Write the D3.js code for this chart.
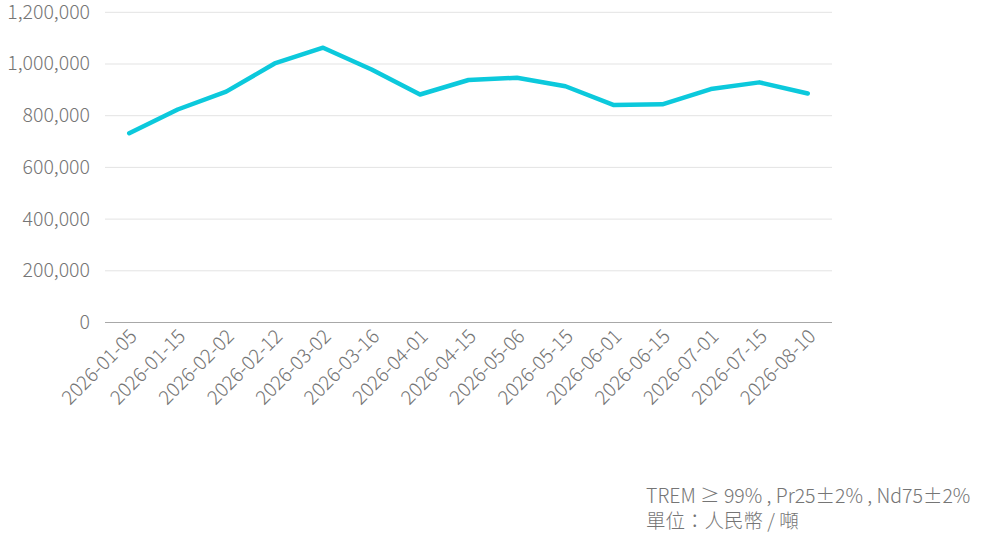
<!DOCTYPE html>
<html>
<head>
<meta charset="utf-8">
<script src="https://cdn.jsdelivr.net/npm/d3@7"></script>
<style>
  body { margin: 0; background: #fff; }
  svg text { font-family: "Noto Sans CJK TC", "Noto Sans", sans-serif; font-weight: 300; fill: #757575; }
</style>
</head>
<body>
<script>
var dates = ["2026-01-05", "2026-01-15", "2026-02-02", "2026-02-12", "2026-03-02",
  "2026-03-16", "2026-04-01", "2026-04-15", "2026-05-06", "2026-05-15",
  "2026-06-01", "2026-06-15", "2026-07-01", "2026-07-15", "2026-08-10"];
var prices = [732000, 824000, 893000, 1002000, 1063000,
  979000, 882000, 938000, 947000, 914000,
  841000, 844000, 903000, 929000, 886000];
var yTicks = [0, 200000, 400000, 600000, 800000, 1000000, 1200000];
var notes = ["TREM ≥ 99% , Pr25±2% , Nd75±2%", "單位：人民幣 / 噸"];

var width = 995,
  height = 553,
  plotLeft = 105,
  plotRight = 832,
  plotTop = 12.3,
  plotBottom = 322.5

var svg = d3.select("body").append("svg")
  .attr("width", width)
  .attr("height", height)

var x = d3.scalePoint()
  .domain(dates)
  .range([plotLeft, plotRight])
  .padding(0.5);

var y = d3.scaleLinear()
  .domain([0, 1200000])
  .range([plotBottom, plotTop]);

// grid lines
svg.selectAll(".grid")
  .data(yTicks.filter(function (d) { return d > 0; }))
  .enter().append("line")
  .attr("class", "grid")
  .attr("x1", plotLeft)
  .attr("x2", plotRight)
  .attr("y1", function (d) { return y(d); })
  .attr("y2", function (d) { return y(d); })
  .attr("stroke", "#e3e3e3")
  .attr("stroke-width", 1);

// base line
svg.append("line")
  .attr("x1", plotLeft)
  .attr("x2", plotRight)
  .attr("y1", y(0))
  .attr("y2", y(0))
  .attr("stroke", "#a8a8a8")
  .attr("stroke-width", 1);

// y labels
svg.selectAll(".ylab")
  .data(yTicks)
  .enter().append("text")
  .attr("class", "ylab")
  .attr("x", 90)
  .attr("y", function (d) { return y(d); })
  .attr("dy", "0.33em")
  .attr("text-anchor", "end")
  .style("font-size", "19.5px")
  .text(function (d) { return d3.format(",")(d); });

// x labels
svg.selectAll(".xlab")
  .data(dates)
  .enter().append("text")
  .attr("class", "xlab")
  .attr("text-anchor", "end")
  .attr("transform", function (d) { return "translate(" + (x(d) + 9) + "," + (plotBottom + 15) + ") rotate(-45)"; })
  .style("font-size", "19.5px")
  .text(function (d) { return d; });

var line = d3.line()
  .x(function (d, i) { return x(dates[i]); })
  .y(function (d) { return y(d); });

svg.append("path")
  .datum(prices)
  .attr("d", line)
  .attr("fill", "none")
  .attr("stroke", "#0cc9dc")
  .attr("stroke-width", 4.5)
  .attr("stroke-linejoin", "round")
  .attr("stroke-linecap", "round");

svg.selectAll(".note")
  .data(notes)
  .enter().append("text")
  .attr("class", "note")
  .attr("x", 646)
  .attr("y", function (d, i) { return 503 + i * 25; })
  .style("font-size", "19.5px")
  .text(function (d) { return d; });
</script>
</body>
</html>
